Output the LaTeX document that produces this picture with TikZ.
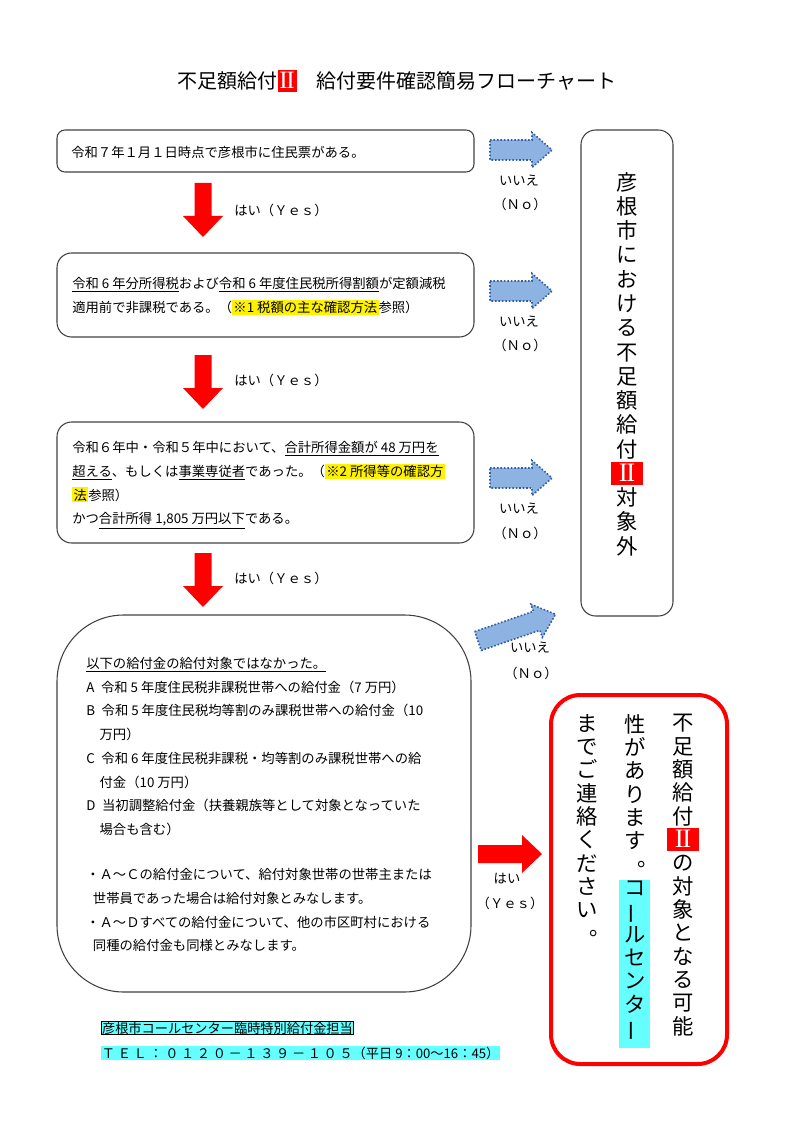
\documentclass[tikz,border=0pt]{standalone}
\usepackage{fontspec}
\usepackage{graphicx}
\setmainfont{Noto Sans CJK JP}
\newfontfamily\romfont[Scale=1.25]{Liberation Serif}
\usetikzlibrary{fit}
\definecolor{nofill}{RGB}{141,179,226}
\definecolor{nodraw}{RGB}{52,92,160}
\definecolor{callcyan}{RGB}{102,255,255}
\newcommand\romII[1]{{\setlength\fboxsep{0pt}\colorbox{red}{\makebox[#1]{\rule[-0.18em]{0pt}{1.08em}\color{white}\romfont I\kern-0.05em I}}}}
\newcommand\yel[1]{{\setlength\fboxsep{1pt}\colorbox{yellow}{#1}}}
\newcommand\vbar{\rotatebox[origin=c]{90}{ー}}
\newcommand\vmaru{\makebox[1em][l]{\hspace{0.6em}\smash{\raisebox{0.25em}{。}}}}
\tikzset{
  qbox/.style={draw=black!75,line width=0.8pt,inner sep=0pt},
  qtext/.style={anchor=north west,inner sep=0pt,align=left,font=\fontsize{10}{17.8}\selectfont},
  lbl/.style={inner sep=0pt,font=\fontsize{10}{12}\selectfont},
  tate/.style={anchor=north,inner sep=0pt,align=center,font=\fontsize{16}{17.5}\selectfont},
  yesdown/.pic={\fill[red](-8.5,0)--(8.5,0)--(8.5,33)--(20,33)--(0,54)--(-20,33)--(-8.5,33)--cycle;},
  yesright/.pic={\fill[red](0,-9)--(44,-9)--(44,-19)--(64,0)--(44,19)--(44,9)--(0,9)--cycle;},
  noright/.pic={\filldraw[fill=nofill,draw=nodraw,line width=1.2pt,dash pattern=on 1.2pt off 1.4pt]
    (0,-10)--(#1,-10)--(#1,-17.5)--++(20,17.5)--(#1,17.5)--(#1,10)--(0,10)--cycle;}
}
\begin{document}
\begin{tikzpicture}[x=0.75pt,y=-0.75pt]
\useasboundingbox(0,0)rectangle(794,1123);
\node[inner sep=0pt,font=\fontsize{15}{16}\selectfont](title)at(397,81){不足額給付\romII{0.95em}　給付要件確認簡易フローチャート};
\node[qbox,rounded corners=6pt,fit={(57,130)(474,172)}](q1){};
\node[qtext](q1t)at(71,146){令和７年１月１日時点で彦根市に住民票がある。};
\node[qbox,rounded corners=11pt,fit={(57,253)(474,337)}](q2){};
\node[qtext](q2t)at(72,277){\underline{令和 6 年分所得税}および\underline{令和 6 年度住民税所得割額}が定額減税\\
  適用前で非課税である。（\yel{※1 税額の主な確認方法}参照）};
\node[qbox,rounded corners=11pt,fit={(57,422)(474,543)}](q3){};
\node[qtext](q3t)at(72,441){令和６年中・令和５年中において、\underline{合計所得金額が 48 万円を}\\
  \underline{超える}、もしくは\underline{事業専従者}であった。（\yel{※2 所得等の確認方}\\
  \yel{法}参照）\\
  かつ\underline{合計所得 1,805 万円以下}である。};
\node[qbox,rounded corners=50pt,fit={(57,615)(471,992)}](q4){};
\node[qtext](q4t)at(86,657){\underline{以下の給付金の給付対象ではなかった。}\\
  A\hspace{0.5em}令和 5 年度住民税非課税世帯への給付金（7 万円）\\
  B\hspace{0.5em}令和 5 年度住民税均等割のみ課税世帯への給付金（10\\
  \hspace{1em}万円）\\
  C\hspace{0.5em}令和 6 年度住民税非課税・均等割のみ課税世帯への給\\
  \hspace{1em}付金（10 万円）\\
  D\hspace{0.5em}当初調整給付金（扶養親族等として対象となっていた\\
  \hspace{1em}場合も含む）\\[16pt]
  ・Ａ～Ｃの給付金について、給付対象世帯の世帯主または\\
  \hspace{0.5em}世帯員であった場合は給付対象とみなします。\\
  ・Ａ～Ｄすべての給付金について、他の市区町村における\\
  \hspace{0.5em}同種の給付金も同様とみなします。};
\pic(a1)at(203,183){yesdown};
\pic(a2)at(203,355){yesdown};
\pic(a3)at(203,553){yesdown};
\pic(a4)at(478,854){yesright};
\node[lbl,anchor=west](a1l)at(234,210){はい（Ｙｅｓ）};
\node[lbl,anchor=west](a2l)at(234,380){はい（Ｙｅｓ）};
\node[lbl,anchor=west](a3l)at(234,578){はい（Ｙｅｓ）};
\node[lbl](a4l)at(507,879){はい};
\node[lbl](a4m)at(510,903){（Ｙｅｓ）};
\pic(n1)at(490,150){noright=42};
\pic(n2)at(490,291){noright=42};
\pic(n3)at(490,478){noright=42};
\pic[rotate=19](n4)at(478,641){noright=62};
\node[lbl](n1l)at(519,181){いいえ};
\node[lbl](n1m)at(520,204){（Ｎｏ）};
\node[lbl](n2l)at(519,322){いいえ};
\node[lbl](n2m)at(520,345){（Ｎｏ）};
\node[lbl](n3l)at(519,509){いいえ};
\node[lbl](n3m)at(520,533){（Ｎｏ）};
\node[lbl](n4l)at(530,648){いいえ};
\node[lbl](n4m)at(531,673){（Ｎｏ）};
\node[qbox,rounded corners=11pt,fit={(581,130)(673,616)}](out){};
\node[tate,font=\fontsize{16}{18.2}\selectfont](outt)at(627,172){彦\\根\\市\\に\\お\\け\\る\\不\\足\\額\\給\\付\\\romII{1.5em}\\対\\象\\外};
\node[draw=red,line width=3pt,inner sep=0pt,rounded corners=22pt,fit={(551,695)(727,1064)}](call){};
\fill[callcyan](619,880)rectangle(650,1048);
\node[tate](c1)at(683,714){不\\足\\額\\給\\付\\\romII{1.5em}\\の\\対\\象\\と\\な\\る\\可\\能};
\node[tate](c2)at(635,714){性\\が\\あ\\り\\ま\\す\\\vmaru\\コ\\\vbar\\ル\\セ\\ン\\タ\\\vbar};
\node[tate](c3)at(587,714){ま\\で\\ご\\連\\絡\\く\\だ\\さ\\い\\\vmaru};
\node[anchor=west,fill=callcyan,draw=black,line width=0.6pt,inner sep=0.5pt,font=\fontsize{9.9}{12}\selectfont](cc1)at(101,1028){彦根市コールセンター臨時特別給付金担当};
\node[anchor=west,fill=callcyan,inner sep=0.5pt,font=\fontsize{9.9}{12}\selectfont](cc2)at(101,1053){{\addfontfeature{LetterSpace=20}ＴＥＬ：０１２０－１３９－１０５}（平日 9：00～16：45）};
\end{tikzpicture}
\end{document}
